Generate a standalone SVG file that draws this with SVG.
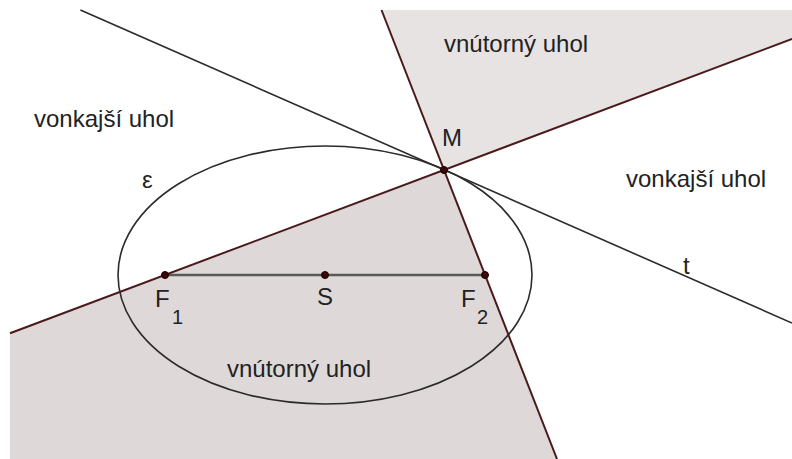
<svg xmlns="http://www.w3.org/2000/svg" width="792" height="459" viewBox="0 0 792 459">
  <style>
    .lbl { font-family: "Liberation Sans", Arial, sans-serif; font-size: 24px; fill: #222222; }
    .sub { font-family: "Liberation Sans", Arial, sans-serif; font-size: 20px; fill: #222222; }
    .angle { stroke: none; }
    .side { stroke: #4a1a1a; stroke-width: 2; fill: none; }
    .curve { stroke: #2b2b2b; stroke-width: 1.6; fill: none; }
    .pt { fill: #3a0808; stroke: #1a0000; stroke-width: 1; }
  </style>
  <rect width="792" height="459" fill="#ffffff"/>
  <g id="angle-top">
    <polygon class="angle" points="444,170 381.5,10 792,10 792,39" fill="#e7e3e3"/>
    <text class="lbl" x="444" y="52">vnútorný uhol</text>
  </g>
  <g id="angle-bottom">
    <polygon class="angle" points="444,170 10,333.3 10,459 557,459" fill="#dfd8d9"/>
    <text class="lbl" x="227" y="377">vnútorný uhol</text>
  </g>
  <g id="ellipse">
    <ellipse class="curve" cx="325" cy="275" rx="207" ry="129"/>
    <text class="lbl" x="142" y="188">ε</text>
  </g>
  <g id="connectors">
    <line id="tangent" class="curve" x1="80.4" y1="10" x2="792" y2="323"/>
    <line id="segment-F1F2" x1="165" y1="275" x2="485" y2="275" stroke="#5a5a5a" stroke-width="2.5"/>
    <line id="line-F1M" class="side" x1="10" y1="333.3" x2="792" y2="39"/>
    <line id="line-F2M" class="side" x1="381.5" y1="10" x2="557" y2="459"/>
  </g>
  <g id="label-t">
    <text class="lbl" x="683" y="274">t</text>
  </g>
  <g id="outer-left">
    <text class="lbl" x="34" y="127">vonkajší uhol</text>
  </g>
  <g id="outer-right">
    <text class="lbl" x="626" y="187">vonkajší uhol</text>
  </g>
  <g id="point-M">
    <circle class="pt" cx="444" cy="170" r="3.5"/>
    <text class="lbl" x="442" y="146">M</text>
  </g>
  <g id="point-F1">
    <circle class="pt" cx="165" cy="275" r="3.5"/>
    <text class="lbl" x="155" y="307">F</text>
    <text class="sub" x="172" y="324">1</text>
  </g>
  <g id="point-S">
    <circle class="pt" cx="325" cy="275" r="3.5"/>
    <text class="lbl" x="317" y="305">S</text>
  </g>
  <g id="point-F2">
    <circle class="pt" cx="485" cy="275" r="3.5"/>
    <text class="lbl" x="461" y="307">F</text>
    <text class="sub" x="477" y="324">2</text>
  </g>
</svg>
